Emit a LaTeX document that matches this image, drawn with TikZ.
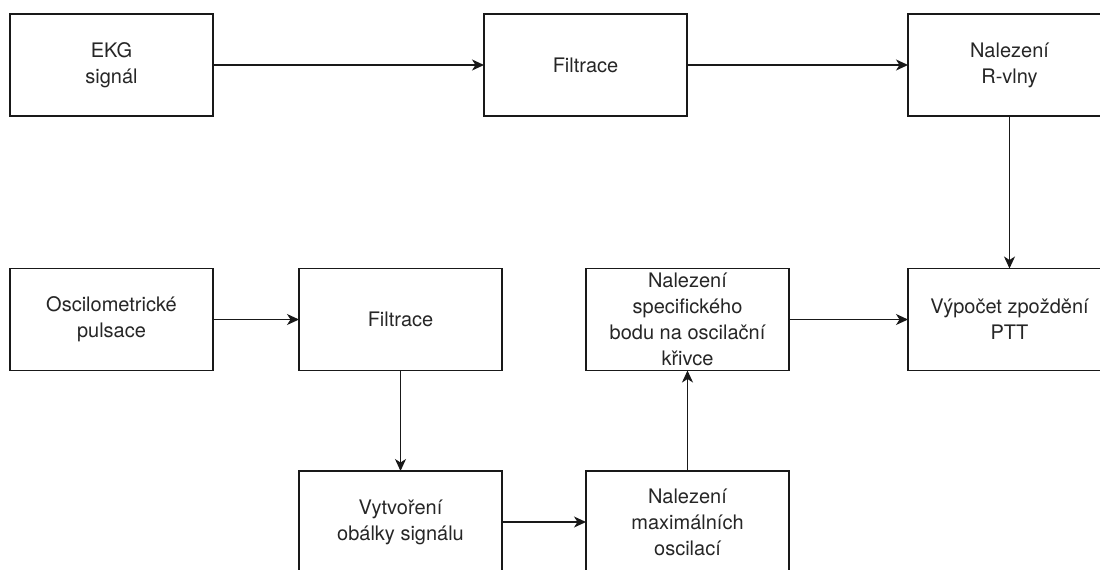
\documentclass[tikz,border=0pt]{standalone}
\usepackage{fontspec}
\setmainfont{TeX Gyre Heros}
\usetikzlibrary{arrows.meta}
\begin{document}
\begin{tikzpicture}[x=1pt,y=-1pt,
  blk/.style={draw=black!90, line width=1.5pt, fill=white, minimum width=203pt, minimum height=102pt,
    align=center, inner sep=0pt, outer sep=0pt, text=black!85, font=\fontsize{20}{26}\selectfont},
  conn/.style={draw=black!90, line width=1.5pt, -{Stealth[length=12pt,width=11pt,inset=3.5pt]}}]
\useasboundingbox (0,0) rectangle (1100,570);
\fill[white] (0,0) rectangle (1100,570);
\clip (0,0) rectangle (1100,570);
\node[blk] (ekg) at (111.5,65) {EKG\\signál};
\node[blk] (f1) at (585.5,65) {Filtrace};
\node[blk] (rv) at (1009.5,65) {Nalezení\\R-vlny};
\node[blk] (osc) at (111.5,319.5) {Oscilometrické\\pulsace};
\node[blk] (f2) at (400.5,319.5) {Filtrace};
\node[blk] (spec) at (687.5,319.5) {Nalezení\\specifického\\bodu na oscilační\\křivce};
\node[blk] (ptt) at (1009.5,319.5) {Výpočet zpoždění\\PTT};
\node[blk] (obal) at (400.5,522) {Vytvoření\\obálky signálu};
\node[blk] (max) at (687.5,522) {Nalezení\\maximálních\\oscilací};
\draw[conn] (ekg) -- (f1);
\draw[conn] (f1) -- (rv);
\draw[conn] (rv) -- (ptt);
\draw[conn] (osc) -- (f2);
\draw[conn] (f2) -- (obal);
\draw[conn] (obal) -- (max);
\draw[conn] (max) -- (spec);
\draw[conn] (spec) -- (ptt);
\end{tikzpicture}
\end{document}
